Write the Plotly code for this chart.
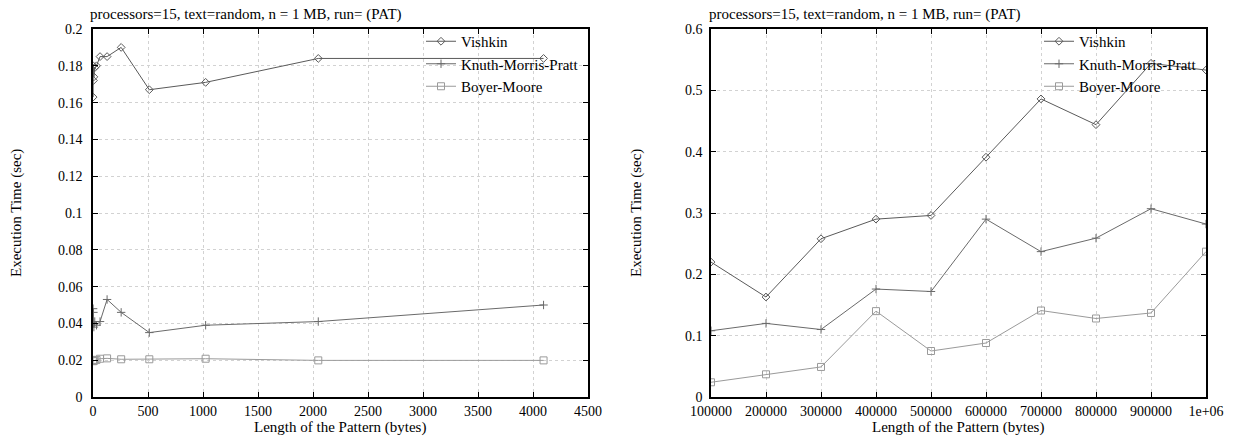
import plotly.graph_objects as go

# ---- data ----
series_names = ["Vishkin", "Knuth-Morris-Pratt", "Boyer-Moore"]

x_left = [1, 2, 4, 8, 16, 32, 64, 128, 256, 512, 1024, 2048, 4096]
vishkin_left = [0.163, 0.180, 0.172, 0.174, 0.179, 0.180, 0.185, 0.185, 0.190, 0.167, 0.171, 0.184, 0.184]
kmp_left = [0.048, 0.040, 0.046, 0.038, 0.041, 0.039, 0.041, 0.053, 0.046, 0.035, 0.039, 0.041, 0.050]
bm_left = [0.0195, 0.0195, 0.0196, 0.0198, 0.0200, 0.0202, 0.0208, 0.0210, 0.0205, 0.0205, 0.0208, 0.0199, 0.0199]

x_right = [100000, 200000, 300000, 400000, 500000, 600000, 700000, 800000, 900000, 1000000]
vishkin_right = [0.220, 0.163, 0.258, 0.290, 0.296, 0.391, 0.486, 0.444, 0.544, 0.533]
kmp_right = [0.108, 0.120, 0.110, 0.176, 0.172, 0.290, 0.237, 0.259, 0.307, 0.282]
bm_right = [0.024, 0.037, 0.049, 0.140, 0.075, 0.088, 0.141, 0.128, 0.137, 0.237]

right_tick_vals = [100000, 200000, 300000, 400000, 500000, 600000, 700000, 800000, 900000, 1000000]
right_tick_text = ["100000", "200000", "300000", "400000", "500000", "600000", "700000", "800000", "900000", "1e+06"]

title_text = "processors=15, text=random, n = 1 MB, run= (PAT)"
x_title = "Length of the Pattern (bytes)"
y_title = "Execution Time (sec)"

# ---- style ----
FONT = "Liberation Serif, serif"
FS_TICK = 14
FS_TEXT = 15
styles = [
    dict(color="#5a5a5a", symbol="diamond-open"),
    dict(color="#6a6a6a", symbol="cross-thin-open"),
    dict(color="#9a9a9a", symbol="square-open"),
]

W, H = 1233, 438
def px_x(p): return p / W
def px_y(p): return 1 - p / H

fig = go.Figure()

left_sets = [vishkin_left, kmp_left, bm_left]
right_sets = [vishkin_right, kmp_right, bm_right]

def add_series(xs, sets, xa, ya, lg):
    for name, ys, st in zip(series_names, sets, styles):
        fig.add_trace(go.Scatter(
            x=xs, y=ys, name=name, mode="lines+markers",
            line=dict(color=st["color"], width=1),
            marker=dict(symbol=st["symbol"], size=6 if st["symbol"] != "square-open" else 7,
                        color=st["color"], line=dict(width=1, color=st["color"])),
            xaxis=xa, yaxis=ya, legend=lg,
        ))

add_series(x_left, left_sets, "x", "y", "legend")
add_series(x_right, right_sets, "x2", "y2", "legend2")

axis_common = dict(
    showline=True, linecolor="black", linewidth=1.5, mirror="ticks",
    ticks="inside", ticklen=5, tickcolor="black", tickwidth=1,
    showgrid=True, gridcolor="#d2d2d2", griddash="dot", gridwidth=1,
    zeroline=False, automargin=False, ticklabeloverflow="allow",
    tickfont=dict(family=FONT, size=FS_TICK, color="black"),
)

ydom = [px_y(397), px_y(29)]
fig.update_layout(
    width=W, height=H,
    margin=dict(l=0, r=0, t=0, b=0, autoexpand=False),
    paper_bgcolor="white", plot_bgcolor="white",
    font=dict(family=FONT, size=FS_TEXT, color="black"),
    xaxis=dict(domain=[px_x(93), px_x(588)], range=[0, 4500], dtick=500, tick0=0,
               ticklabelstandoff=0, anchor="y", **axis_common),
    yaxis=dict(domain=ydom, range=[0, 0.2], dtick=0.02, tick0=0,
               ticklabelstandoff=6, anchor="x", **axis_common),
    xaxis2=dict(domain=[px_x(711), px_x(1206)], range=[100000, 1000000],
                tickmode="array", tickvals=right_tick_vals, ticktext=right_tick_text,
                ticklabelstandoff=0, anchor="y2", **axis_common),
    yaxis2=dict(domain=ydom, range=[0, 0.6], dtick=0.1, tick0=0,
                ticklabelstandoff=4, anchor="x2", **axis_common),
    legend=dict(x=px_x(584), y=px_y(25), xanchor="right", yanchor="top",
                bgcolor="rgba(0,0,0,0)", font=dict(family=FONT, size=FS_TEXT),
                tracegroupgap=0, itemwidth=30),
    legend2=dict(x=px_x(1202), y=px_y(25), xanchor="right", yanchor="top",
                 bgcolor="rgba(0,0,0,0)", font=dict(family=FONT, size=FS_TEXT),
                 tracegroupgap=0, itemwidth=30),
)

def label(text, x, y, angle=0, xanchor="left"):
    fig.add_annotation(text=text, x=px_x(x), y=px_y(y), xref="paper", yref="paper",
                       xanchor=xanchor, yanchor="middle",
                       showarrow=False, textangle=angle,
                       font=dict(family=FONT, size=FS_TEXT, color="black"))

label(title_text, 88, 14)
label(title_text, 707, 14)
label(x_title, 340, 427, xanchor="center")
label(x_title, 958, 427, xanchor="center")
label(y_title, 17, 213, -90, xanchor="center")
label(y_title, 637, 213, -90, xanchor="center")

fig.write_html("out.html", config={"displayModeBar": False},
               post_script="document.body.style.margin='0';")
